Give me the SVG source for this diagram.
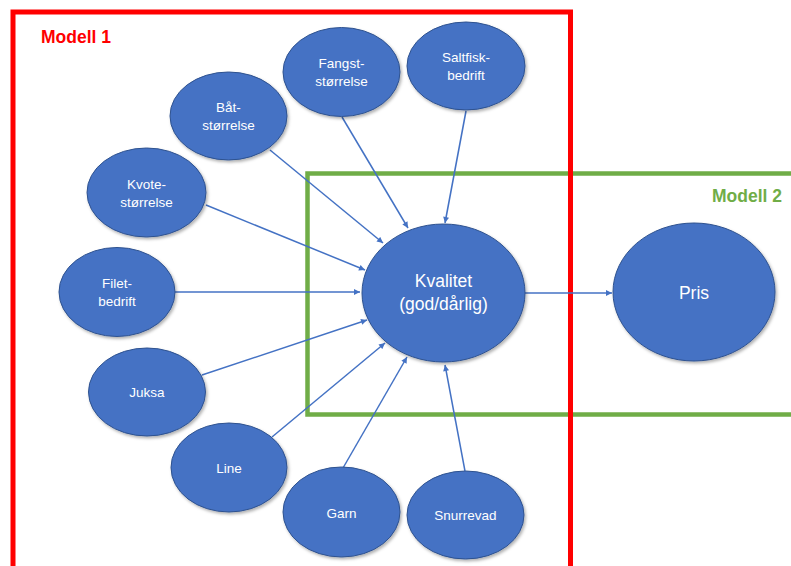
<svg xmlns="http://www.w3.org/2000/svg" width="791" height="566" viewBox="0 0 791 566">
<style>
.node ellipse{fill:#4472C4;stroke:#2F528F;stroke-width:1;filter:url(#sh)}
.node text{font-family:"Liberation Sans",Arial,sans-serif;fill:#FFFFFF;text-anchor:middle}
.sm text{font-size:13.5px}
.lg text{font-size:17.5px}
.edges line{stroke:#4472C4;stroke-width:1.5;marker-end:url(#ah)}
.title{font-family:"Liberation Sans",Arial,sans-serif;font-weight:bold;font-size:17.5px}
</style>
<defs>
<marker id="ah" viewBox="0 0 10 10" refX="10" refY="5" markerWidth="7" markerHeight="6" markerUnits="userSpaceOnUse" orient="auto">
<path d="M0,0 L10,5 L0,10 z" fill="#4472C4"/>
</marker>
<filter id="sh" x="-20%" y="-20%" width="140%" height="150%">
<feDropShadow dx="1.5" dy="2" stdDeviation="1.5" flood-color="#000000" flood-opacity="0.3"/>
</filter>
</defs>
<rect width="791" height="566" fill="#FFFFFF"/>
<g id="modell2">
<rect x="307.5" y="173.5" width="520" height="241" fill="none" stroke="#70AD47" stroke-width="4.5"/>
<text class="title" x="712" y="202" fill="#70AD47">Modell 2</text>
</g>
<g id="modell1">
<rect x="13" y="12" width="557.5" height="580" fill="none" stroke="#FF0000" stroke-width="5"/>
<text class="title" x="41" y="43" fill="#FF0000">Modell 1</text>
</g>
<g id="connectors" class="edges">
<line x1="270" y1="150" x2="383" y2="243"/>
<line x1="342" y1="117" x2="408" y2="228"/>
<line x1="466" y1="111" x2="445" y2="223"/>
<line x1="206" y1="205" x2="365" y2="270"/>
<line x1="175" y1="292" x2="360" y2="292"/>
<line x1="202" y1="375" x2="367" y2="320"/>
<line x1="272" y1="437" x2="385" y2="343"/>
<line x1="343" y1="468" x2="407" y2="357"/>
<line x1="465" y1="471" x2="445" y2="365"/>
<line x1="525" y1="293" x2="612" y2="293"/>
</g>
<g id="fangst" class="node sm"><ellipse cx="341.5" cy="72" rx="58.5" ry="44.5"/><text x="341.5" y="68">Fangst-</text><text x="341.5" y="86">størrelse</text></g>
<g id="saltfisk" class="node sm"><ellipse cx="466" cy="66" rx="59" ry="44"/><text x="466" y="62">Saltfisk-</text><text x="466" y="80">bedrift</text></g>
<g id="bat" class="node sm"><ellipse cx="228.5" cy="116" rx="58.5" ry="44"/><text x="228.5" y="112">Båt-</text><text x="228.5" y="130">størrelse</text></g>
<g id="kvote" class="node sm"><ellipse cx="146.5" cy="192.5" rx="59.5" ry="44.5"/><text x="146.5" y="188.5">Kvote-</text><text x="146.5" y="206.5">størrelse</text></g>
<g id="filet" class="node sm"><ellipse cx="117" cy="292" rx="58" ry="44.5"/><text x="117" y="288">Filet-</text><text x="117" y="306">bedrift</text></g>
<g id="juksa" class="node sm"><ellipse cx="147" cy="392" rx="58.5" ry="44"/><text x="147" y="397">Juksa</text></g>
<g id="line" class="node sm"><ellipse cx="229" cy="467.5" rx="58" ry="44.5"/><text x="229" y="473">Line</text></g>
<g id="garn" class="node sm"><ellipse cx="341.5" cy="512" rx="58.5" ry="45"/><text x="341.5" y="517.5">Garn</text></g>
<g id="snurrevad" class="node sm"><ellipse cx="465.5" cy="515" rx="58.5" ry="44"/><text x="465.5" y="520">Snurrevad</text></g>
<g id="kvalitet" class="node lg"><ellipse cx="443.5" cy="293" rx="81.5" ry="69"/><text x="443.5" y="287">Kvalitet</text><text x="443.5" y="310">(god/dårlig)</text></g>
<g id="pris" class="node lg"><ellipse cx="694" cy="292" rx="81" ry="69"/><text x="694" y="299">Pris</text></g>
</svg>
